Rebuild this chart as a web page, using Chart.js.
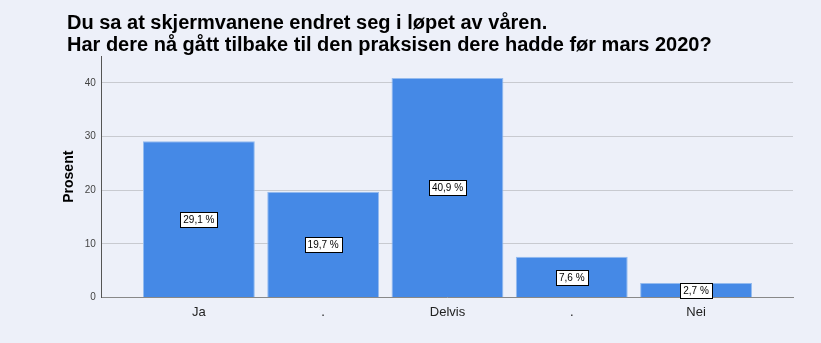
<!DOCTYPE html>
<html>
<head>
<meta charset="utf-8">
<script src="https://cdn.jsdelivr.net/npm/chart.js@4/dist/chart.umd.min.js"></script>
<style>
    html, body { margin: 0; padding: 0; background: #edf0f9; }
    #wrap { position: relative; width: 821px; height: 343px; }
    #heading {
        position: absolute; left: 67px; top: 11px;
        font: bold 20px "Liberation Sans", Arial, sans-serif;
        line-height: 22px; color: #000;
    }
</style>
</head>
<body>
<div id="wrap">
    <canvas id="chart" width="821" height="343"></canvas>
    <div id="heading">Du sa at skjermvanene endret seg i løpet av våren.<br>Har dere nå gått tilbake til den praksisen dere hadde før mars 2020?</div>
</div>
<script>
const categories = ["Ja", ".", "Delvis", ".", "Nei"];
const percentValues = [29.1, 19.7, 40.9, 7.6, 2.7];
const yTicks = [0, 10, 20, 30, 40];

// bars sit at x = 1..5 on a linear axis so the axis can run past the outer bars
const positions = categories.map((c, i) => i + 1);

const valueBoxes = {
    id: "valueBoxes",
    afterDatasetsDraw(chart) {
        const ctx = chart.ctx;
        const meta = chart.getDatasetMeta(0);
        const yScale = chart.scales.y;
        ctx.save();
        ctx.font = "10px 'Liberation Sans', Arial, sans-serif";
        ctx.textAlign = "center";
        ctx.textBaseline = "middle";
        meta.data.forEach((bar, i) => {
            const text = percentValues[i].toFixed(1).replace(".", ",") + " %";
            const y = yScale.getPixelForValue(percentValues[i] / 2);
            const w = Math.round(ctx.measureText(text).width + 6);
            const h = 15;
            const left = Math.round(bar.x - w / 2) + 0.5;
            const top = Math.round(y - h / 2) + 0.5;
            ctx.fillStyle = "#ffffff";
            ctx.fillRect(left, top, w, h);
            ctx.strokeStyle = "#000000";
            ctx.lineWidth = 1;
            ctx.strokeRect(left, top, w, h);
            ctx.fillStyle = "#000000";
            ctx.fillText(text, bar.x, y + 1);
        });
        ctx.restore();
    }
};

new Chart(document.getElementById("chart"), {
    type: "bar",
    data: {
        labels: positions,
        datasets: [{
            data: percentValues.map((v, i) => ({ x: positions[i], y: v })),
            backgroundColor: "#4589e6",
            borderColor: "#94bbef",
            borderWidth: 1,
            categoryPercentage: 0.9,
            barPercentage: 1.0
        }]
    },
    options: {
        responsive: false,
        animation: false,
        layout: { padding: { top: 56, right: 28, bottom: 16, left: 61 } },
        plugins: {
            legend: { display: false },
            tooltip: { enabled: false },
            title: { display: false }
        },
        scales: {
            x: {
                type: "linear",
                offset: false,
                min: 0.22,
                max: 5.78,
                afterBuildTicks: axis => { axis.ticks = positions.map(v => ({ value: v })); },
                ticks: {
                    callback: v => categories[v - 1],
                    color: "#222",
                    font: { family: "'Liberation Sans', Arial, sans-serif", size: 13 },
                    padding: 7,
                    maxRotation: 0,
                    autoSkip: false
                },
                grid: { display: false, drawTicks: false },
                border: { display: true, color: "#888", width: 1 }
            },
            y: {
                min: 0,
                max: 45,
                afterBuildTicks: axis => { axis.ticks = yTicks.map(v => ({ value: v })); },
                ticks: {
                    color: "#444",
                    font: { family: "'Liberation Sans', Arial, sans-serif", size: 10 },
                    padding: 6
                },
                grid: { color: "#c8cad0", drawTicks: false },
                border: { display: true, color: "#555", width: 1 },
                title: {
                    display: true,
                    text: "Prosent",
                    color: "#000",
                    font: { family: "'Liberation Sans', Arial, sans-serif", size: 14, weight: "bold" },
                    padding: { top: 0, bottom: 1 }
                }
            }
        }
    },
    plugins: [valueBoxes]
});
</script>
</body>
</html>
